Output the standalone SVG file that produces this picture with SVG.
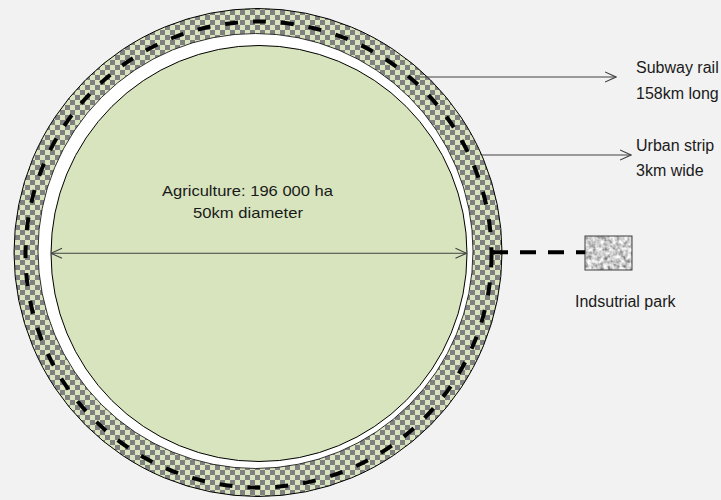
<svg xmlns="http://www.w3.org/2000/svg" width="721" height="500" viewBox="0 0 721 500">
<style>
.lbl{font-family:"Liberation Sans",Arial,sans-serif;font-size:16px;fill:#1a1a1a}
.cal{font-family:"Liberation Sans",Arial,sans-serif;font-size:15px;fill:#1a1a1a}
.ptr{fill:none;stroke:#404040;stroke-width:1.1}
</style>
<defs>
<pattern id="checker" width="10" height="10" patternUnits="userSpaceOnUse">
<rect width="10" height="10" fill="#d7e4bd"/>
<rect width="5" height="5" fill="#808080"/>
<rect x="5" y="5" width="5" height="5" fill="#808080"/>
</pattern>
<filter id="noise" x="0" y="0" width="100%" height="100%">
<feTurbulence type="fractalNoise" baseFrequency="0.25" numOctaves="2" seed="3" result="t"/>
<feColorMatrix in="t" type="matrix" values="1.4 0 0 0 -0.08  1.4 0 0 0 -0.08  1.4 0 0 0 -0.08  0 0 0 0 1" result="g"/>
<feComposite in="g" in2="SourceGraphic" operator="in"/>
</filter>
<marker id="chev" viewBox="0 0 12 12" refX="11.5" refY="6" markerWidth="12" markerHeight="12" markerUnits="userSpaceOnUse" orient="auto-start-reverse">
<path d="M0.5,1 L11.5,6 L0.5,11" fill="none" stroke="#404040" stroke-width="1.1"/>
</marker>
</defs>
<rect width="721" height="500" fill="#f2f2f2"/>
<g id="urban-strip">
<circle cx="258" cy="252.5" r="244" fill="url(#checker)" stroke="#000" stroke-width="1"/>
</g>
<g id="subway-rail">
<circle cx="258.5" cy="254.5" r="233" fill="none" stroke="#000" stroke-width="4" stroke-dasharray="13 15"/>
</g>
<g id="buffer">
<circle cx="255.5" cy="251" r="217.5" fill="#ffffff" stroke="#000" stroke-width="0.8"/>
</g>
<g id="agriculture">
<circle cx="259" cy="253.5" r="208" fill="#d7e4bd" stroke="#000" stroke-width="1"/>
<text class="cal" x="247.5" y="196" text-anchor="middle" textLength="171" lengthAdjust="spacingAndGlyphs">Agriculture:  196 000 ha</text>
<text class="cal" x="248" y="218" text-anchor="middle" textLength="110" lengthAdjust="spacingAndGlyphs">50km diameter</text>
</g>
<g id="industrial-park">
<rect x="585" y="236" width="47" height="34" fill="#ffffff" filter="url(#noise)"/>
<rect x="585" y="236" width="47" height="34" fill="none" stroke="#3f3f3f" stroke-width="1"/>
<text class="lbl" x="575" y="307">Indsutrial park</text>
</g>
<g id="labels">
<text class="lbl" x="636" y="73">Subway rail</text>
<text class="lbl" x="636" y="99">158km long</text>
<text class="lbl" x="636" y="151">Urban strip</text>
<text class="lbl" x="636" y="176">3km wide</text>
</g>
<g id="connectors">
<line class="ptr" x1="51" y1="253.3" x2="466.5" y2="253.3" marker-start="url(#chev)" marker-end="url(#chev)" stroke="#595959"/>
<line class="ptr" x1="420" y1="77" x2="616" y2="77" marker-end="url(#chev)"/>
<line class="ptr" x1="482" y1="155" x2="631" y2="155" marker-end="url(#chev)"/>
<line x1="492" y1="252.3" x2="585" y2="252.3" stroke="#000" stroke-width="4" stroke-dasharray="16 12"/>
</g>
</svg>
